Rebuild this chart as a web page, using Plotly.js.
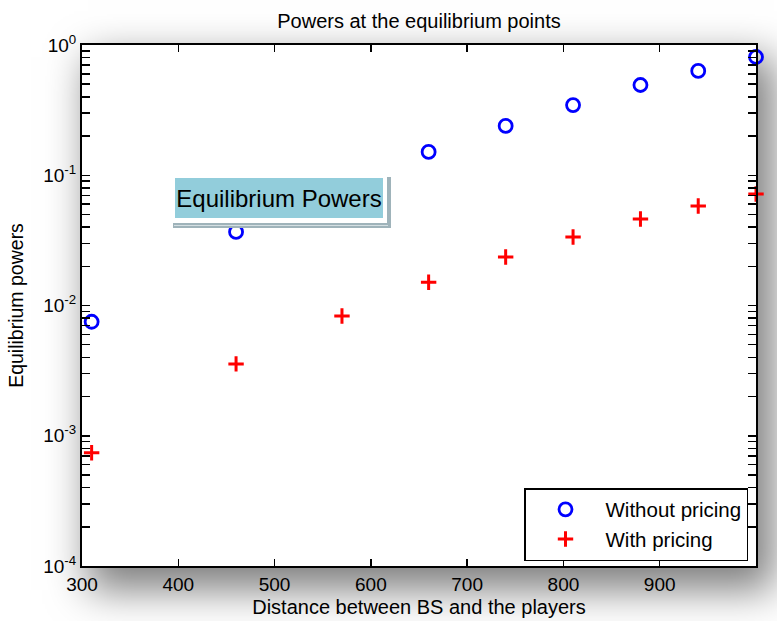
<!DOCTYPE html>
<html>
<head>
<meta charset="utf-8">
<script src="https://cdn.plot.ly/plotly-3.0.1.min.js"></script>
<style>
  html, body { margin:0; padding:0; background:#ffffff; overflow:hidden; }
  #wrap { position:relative; width:777px; height:621px; overflow:hidden; background:#ffffff; }
  #shadow { position:absolute; left:82px; top:45px; width:674px; height:521px; background:#ffffff;
            box-shadow: 12px 18px 38px 6px rgba(0,0,0,0.5); }
  #chart { position:absolute; left:0; top:0; width:777px; height:621px; }
</style>
</head>
<body>
<div id="wrap">
  <div id="shadow"></div>
  <div id="chart"></div>
</div>
<script>
// Data
const distWithout = [310, 460, 660, 740, 810, 880, 940, 1000];
const powerWithout = [0.0075, 0.0367, 0.151, 0.239, 0.346, 0.493, 0.632, 0.809];
const distWith = [310, 460, 570, 660, 740, 810, 880, 940, 1000];
const powerWith = [0.00074, 0.00356, 0.0083, 0.0151, 0.0236, 0.0336, 0.0462, 0.058, 0.0718];
const seriesNames = ["Without pricing", "With pricing"];
const xTicks = [300, 400, 500, 600, 700, 800, 900, 1000];
const yDecades = [-4, -3, -2, -1, 0];

// Log ticks: labelled decades, unlabelled minor ticks
const yTickVals = yDecades.map(function (d) { return Math.pow(10, d); });
const yTickText = yDecades.map(function (d) { return "10<sup>" + d + "</sup>"; });
const yMinorVals = [];
yDecades.forEach(function (d) {
  if (d === 0) return;
  for (let m = 2; m <= 9; m++) yMinorVals.push(m * Math.pow(10, d));
});

const FONT = "Arial, 'Liberation Sans', Helvetica, sans-serif";
const L = 82, T = 45, W = 674, H = 521;
function px(x) { return (x - L) / W; }
function py(y) { return (T + H - y) / H; }

const traces = [
  { x: distWithout, y: powerWithout, name: seriesNames[0], type: "scatter", mode: "markers", cliponaxis: false,
    marker: { symbol: "circle-open", size: 13, color: "#0000ff", line: { width: 2.8, color: "#0000ff" } } },
  { x: distWith, y: powerWith, name: seriesNames[1], type: "scatter", mode: "markers", cliponaxis: false,
    marker: { symbol: "cross-thin-open", size: 11, color: "#ff0000", line: { width: 3, color: "#ff0000" } } }
];

const layout = {
  width: 777, height: 621,
  margin: { l: L, r: 777 - L - W, t: T, b: 621 - T - H, pad: 0 },
  paper_bgcolor: "rgba(0,0,0,0)",
  plot_bgcolor: "rgba(0,0,0,0)",
  font: { family: FONT, color: "#000000", size: 19 },
  title: { text: "Powers at the equilibrium points", font: { family: FONT, size: 20, color: "#000" },
           x: 0.5, xref: "paper", y: 0.966, yref: "container", yanchor: "middle" },
  xaxis: {
    type: "linear", range: [300, 1000], tickvals: xTicks, ticktext: xTicks.map(String),
    ticks: "inside", ticklen: 7, tickwidth: 1.5, tickcolor: "#000",
    showline: true, linecolor: "#000", linewidth: 2, mirror: "ticks",
    showgrid: false, zeroline: false,
    tickfont: { family: FONT, size: 19 },
    title: { text: "Distance between BS and the players", font: { family: FONT, size: 20 }, standoff: 6 }
  },
  yaxis: {
    type: "log", range: [-4, 0], tickvals: yTickVals, ticktext: yTickText,
    ticks: "inside", ticklen: 8, tickwidth: 1.5, tickcolor: "#000",
    minor: { tickvals: yMinorVals, ticks: "inside", ticklen: 8, tickwidth: 1.5, tickcolor: "#000", showgrid: false },
    showline: true, linecolor: "#000", linewidth: 2, mirror: "ticks",
    showgrid: false, zeroline: false,
    tickfont: { family: FONT, size: 19 },
    title: { text: "Equilibrium powers", font: { family: FONT, size: 19.5 }, standoff: 14 }
  },
  legend: {
    x: px(524), y: py(488), xanchor: "left", yanchor: "top",
    bgcolor: "#ffffff", bordercolor: "#000000", borderwidth: 1.5,
    font: { family: FONT, size: 20.5 }, itemwidth: 70
  },
  shapes: [
    { type: "rect", xref: "paper", yref: "paper", x0: px(173), x1: px(391), y0: py(228), y1: py(223),
      fillcolor: "#9fb3ba", line: { width: 0 }, layer: "above" },
    { type: "rect", xref: "paper", yref: "paper", x0: px(387), x1: px(391), y0: py(228), y1: py(177),
      fillcolor: "#9fb3ba", line: { width: 0 }, layer: "above" },
    { type: "line", xref: "paper", yref: "paper", x0: px(174), x1: px(388), y0: py(225.5), y1: py(225.5),
      line: { width: 1, color: "#d4dfe2" }, layer: "above" }
  ],
  annotations: [
    { text: "Equilibrium Powers", xref: "paper", yref: "paper", x: px(279), y: py(197.5),
      xanchor: "center", yanchor: "middle", showarrow: false, width: 208, height: 40,
      bgcolor: "#92cddb", borderpad: 0, borderwidth: 0,
      font: { family: FONT, size: 24, color: "#000" } }
  ],
  showlegend: true
};

Plotly.newPlot("chart", traces, layout, { displayModeBar: false, staticPlot: true });
</script>
</body>
</html>
